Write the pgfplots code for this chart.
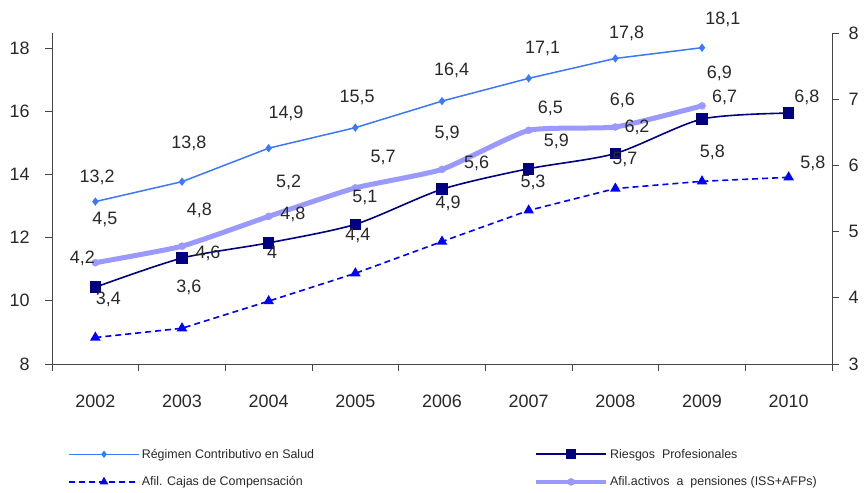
\documentclass[border=0pt]{standalone}
\usepackage{fontspec}
\setmainfont{Liberation Sans}
\usepackage{pgfplots}
\pgfplotsset{compat=1.18}
\definecolor{cReg}{RGB}{60,120,255}
\definecolor{cRie}{RGB}{0,0,128}
\definecolor{cCaj}{RGB}{0,0,255}
\definecolor{cPen}{RGB}{153,153,255}
\definecolor{axc}{RGB}{70,70,70}
\definecolor{txc}{RGB}{40,40,40}
\begin{document}
\begin{tikzpicture}
\pgfplotsset{
  common/.style={scale only axis, width=780bp, height=331bp, xmin=-0.5, xmax=8.5, clip=false,
    /pgf/number format/assume math mode=true,
    axis line style={axc, line width=0.8bp}, tick style={axc, line width=0.8bp},
    tick align=outside, major tick length=7bp,
    ticklabel style={font=\fontsize{18}{20}\selectfont, text=txc}},
  lReg/.style={cReg, line width=1.5bp, mark=diamond*, mark size=3bp, mark options={solid, fill=cReg}},
  lRie/.style={cRie, line width=1.6bp, mark=square*, mark size=5bp, mark options={solid, fill=cRie}},
  lCaj/.style={cCaj, line width=1.6bp, dash pattern=on 6bp off 4bp, mark=triangle*, mark size=4.5bp, mark options={solid, fill=cCaj}},
  lPen/.style={cPen, line width=5bp, mark=*, mark size=3.5bp, mark options={solid, fill=cPen, line width=0.5bp}},
}
% left axis
\begin{axis}[common, ymin=8, ymax=18.475, axis y line*=left, axis x line*=bottom,
  ytick={8,10,12,14,16,18}, yticklabel style={xshift=-12bp},
  xtick={-0.5,0.5,...,8.5}, xticklabels={},
  extra x ticks={0,1,2,3,4,5,6,7,8},
  extra x tick labels={2002,2003,2004,2005,2006,2007,2008,2009,2010},
  extra x tick style={major tick length=0pt, xticklabel style={yshift=-27bp}}]
\addplot[lReg] coordinates {(0,13.14) (1,13.77) (2,14.83) (3,15.48) (4,16.32) (5,17.04) (6,17.67) (7,18.01)};
\end{axis}
% right axis
\begin{axis}[common, ymin=3, ymax=8, axis y line*=right, axis x line=none,
  ytick={3,4,5,6,7,8}, yticklabel style={xshift=6bp},
  legend columns=2,
  legend cell align=left,
  legend style={draw=none, fill=none, at={(0.0205,-0.25)}, anchor=north west,
    font=\fontsize{12.5}{14}\selectfont, text=txc, row sep=13bp, inner sep=0pt,
    /tikz/every even column/.append style={column sep=218bp}},
  legend image code/.code={\draw[#1, mark repeat=2, mark phase=2] plot coordinates {(0bp,0bp) (35bp,0bp) (70bp,0bp)};}]
\addlegendimage{lReg, mark size=2.5bp}
\addlegendentry{Régimen Contributivo en Salud}
\addplot[lRie, smooth, tension=0.45, legend image post style={mark size=4bp}] coordinates {(0,4.16) (1,4.60) (2,4.83) (3,5.11) (4,5.64) (5,5.95) (6,6.18) (7,6.70) (8,6.79)};
\addlegendentry{Riesgos\ \ Profesionales}
\addplot[lCaj, legend image post style={mark size=3.5bp}] coordinates {(0,3.40) (1,3.54) (2,3.95) (3,4.37) (4,4.85) (5,5.32) (6,5.65) (7,5.76) (8,5.82)};
\addlegendentry{Afil. Cajas de Compensación}
\addplot[lPen, smooth, tension=0.3, legend image post style={line width=4bp, mark size=3.5bp}] coordinates {(0,4.53) (1,4.78) (2,5.23) (3,5.66) (4,5.94) (5,6.53) (6,6.58) (7,6.90)};
\addlegendentry{Afil.activos\ \ a\ \ pensiones (ISS+AFPs)}
\end{axis}
% data labels (left-axis units)
\begin{axis}[common, ymin=8, ymax=18.475, hide axis]
\addplot[draw=none, mark=none, nodes near coords, point meta=explicit symbolic,
  nodes near coords style={anchor=center, font=\fontsize{18}{20}\selectfont, text=txc, inner sep=0pt}]
  table[meta=lab] {
x y lab
0.02 13.92 13,2
1.08 14.99 13,8
2.20 15.94 14,9
3.02 16.42 15,5
4.11 17.30 16,4
5.16 18.00 17,1
6.13 18.47 17,8
7.24 18.89 18,1
0.11 12.56 4,5
1.20 12.87 4,8
2.23 13.76 5,2
3.32 14.52 5,7
4.06 15.31 5,9
5.25 16.10 6,5
6.08 16.35 6,6
7.20 17.21 6,9
-0.15 11.35 4,2
1.30 11.51 4,6
2.28 12.72 4,8
3.11 13.28 5,1
4.40 14.36 5,6
5.32 15.03 5,9
6.25 15.50 6,2
7.26 16.45 6,7
8.21 16.45 6,8
0.15 10.03 3,4
1.08 10.44 3,6
2.04 11.54 4
3.03 12.08 4,4
4.07 13.09 4,9
5.05 13.76 5,3
6.11 14.46 5,7
7.12 14.71 5,8
8.28 14.36 5,8
};
\end{axis}
\pgfresetboundingbox
\path[use as bounding box] (-52bp,-129bp) rectangle (812bp,364bp);
\end{tikzpicture}
\end{document}
